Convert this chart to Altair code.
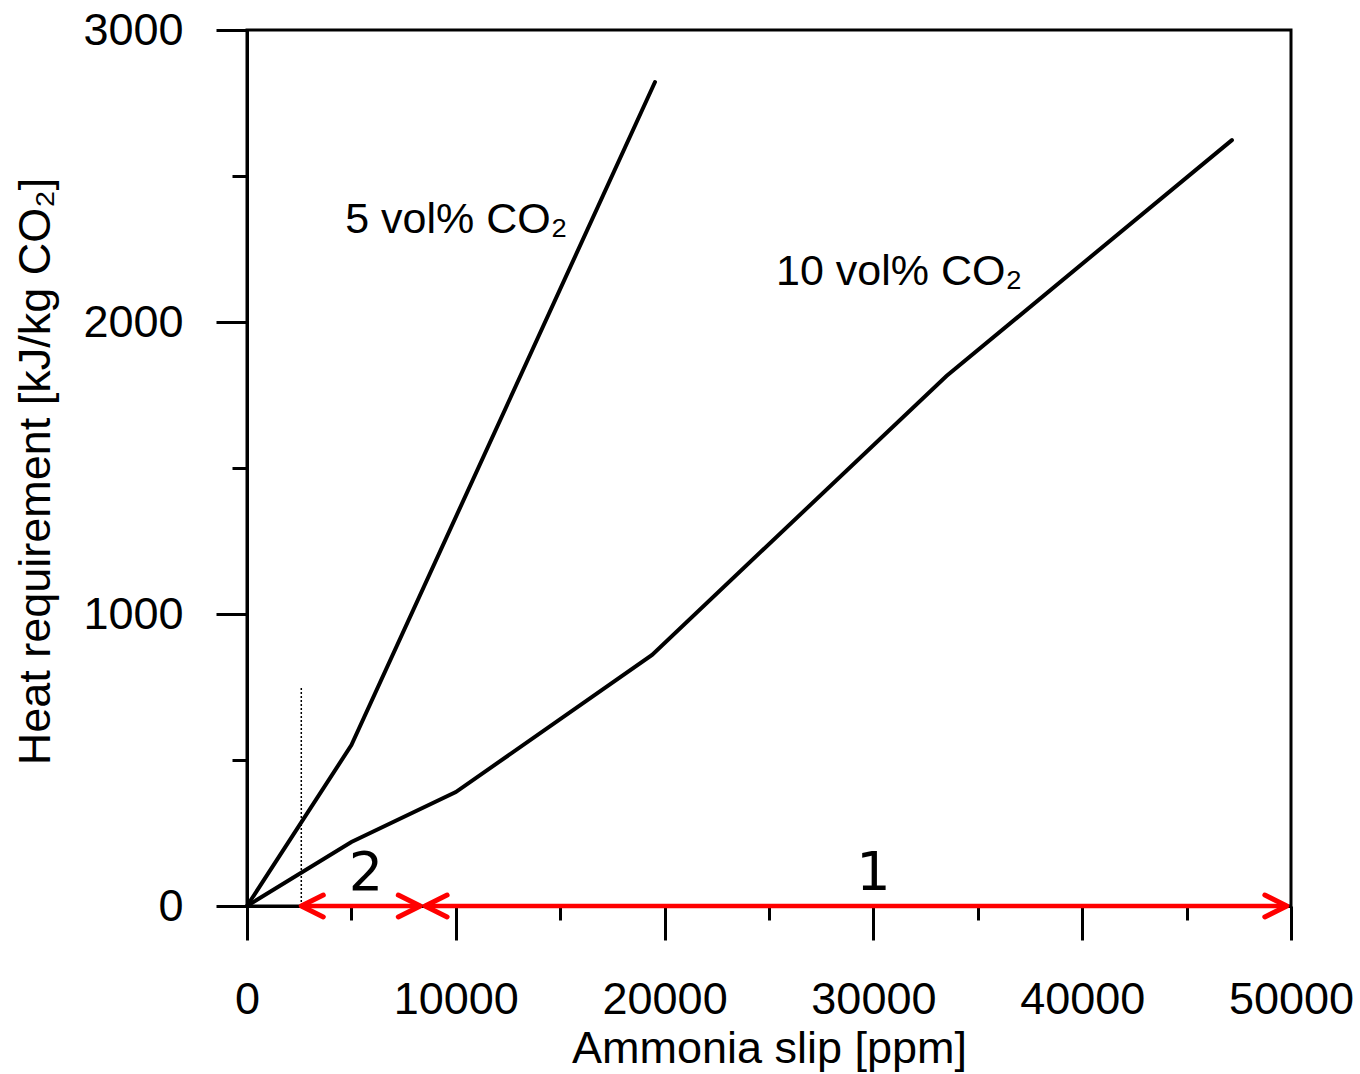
import altair as alt
import pandas as pd

# Data
x5 = [0, 5000, 19540]
y5 = [0, 551, 2822]
x10 = [0, 5000, 10000, 19400, 33500, 47170]
y10 = [0, 219, 390, 860, 1815, 2623]

x_major = [0, 10000, 20000, 30000, 40000, 50000]
x_minor = [5000, 15000, 25000, 35000, 45000]
y_major = [0, 1000, 2000, 3000]
y_minor = [500, 1500, 2500]

dotted_x = 2600
dotted_top = 750

arrow_segments = [
    {"seg": "2", "x": 2600, "x2": 8300},
    {"seg": "1", "x": 8530, "x2": 49800},
]
region_labels = ["2", "1"]
region_label_x = [5700, 30000]
region_label_y = [55, 55]

series_labels = ["5 vol% CO₂", "10 vol% CO₂"]
series_label_x = [4700, 25335]
series_label_y = [2305, 2127]

FONT = "Liberation Sans"

df_lines = pd.DataFrame(
    [{"s": "5", "x": a, "y": b} for a, b in zip(x5, y5)]
    + [{"s": "10", "x": a, "y": b} for a, b in zip(x10, y10)]
)

xs = alt.Scale(domain=[0, 50000], nice=False, zero=False)
ys = alt.Scale(domain=[0, 3000], nice=False, zero=False)

x_axis = alt.Axis(
    orient="bottom",
    values=x_major, title="Ammonia slip [ppm]", tickSize=34, tickWidth=3,
    domainWidth=3, domainColor="black", tickColor="black", labelColor="black",
    labelFont=FONT, labelFontSize=45, labelPadding=37, labelFlush=False,
    titleFont=FONT, titleFontSize=45, titleFontWeight="normal", titleColor="black",
    titleY=156, titleBaseline="alphabetic", format="d", grid=False,
)
y_axis = alt.Axis(
    orient="left",
    values=y_major, title="Heat requirement [kJ/kg CO₂]", tickSize=31, tickWidth=3,
    domainWidth=3, domainColor="black", tickColor="black", labelColor="black",
    labelFont=FONT, labelFontSize=45, labelPadding=33, labelFlush=False,
    titleFont=FONT, titleFontSize=45, titleFontWeight="normal", titleColor="black",
    titleX=-212, titleY=441, titleAngle=270, titleAlign="center", titleBaseline="middle",
    format="d", grid=False,
)

lines = alt.Chart(df_lines).mark_line(color="black", strokeWidth=4, strokeCap="round").encode(
    x=alt.X("x:Q", scale=xs, axis=x_axis),
    y=alt.Y("y:Q", scale=ys, axis=y_axis),
    detail="s:N",
)

df_minor = pd.DataFrame({"x": [x_minor[0]], "y": [y_minor[0]]})
minor = alt.Chart(df_minor).mark_point(opacity=0).encode(
    x=alt.X("x:Q", scale=xs, axis=alt.Axis(orient="bottom", values=x_minor, labels=False, title=None,
                                          domain=False, tickSize=14, tickWidth=3, tickColor="black",
                                          grid=False)),
    y=alt.Y("y:Q", scale=ys, axis=alt.Axis(orient="left", values=y_minor, labels=False, title=None,
                                          domain=False, tickSize=15, tickWidth=3, tickColor="black",
                                          grid=False)),
)

df_dot = pd.DataFrame({"x": [dotted_x], "y": [0], "y2": [dotted_top]})
dotted = alt.Chart(df_dot).mark_rule(color="black", strokeWidth=1.5, strokeDash=[2, 2]).encode(
    x=alt.X("x:Q", scale=xs, axis=None), y=alt.Y("y:Q", scale=ys, axis=None), y2="y2:Q"
)

df_arr = pd.DataFrame(arrow_segments)
df_arr["y"] = 0
arrows = alt.Chart(df_arr).mark_rule(color="#ff0000", strokeWidth=4.5).encode(
    x=alt.X("x:Q", scale=xs, axis=None), x2="x2:Q", y=alt.Y("y:Q", scale=ys, axis=None)
)
left_heads = alt.Chart(df_arr).mark_point(
    shape="M 1 -0.5 L 0 0 L 1 0.5", filled=False, color="#ff0000", strokeWidth=5,
    size=1936, strokeCap="round", strokeJoin="round", opacity=1,
).encode(x=alt.X("x:Q", scale=xs, axis=None), y=alt.Y("y:Q", scale=ys, axis=None))
right_heads = alt.Chart(df_arr).mark_point(
    shape="M -1 -0.5 L 0 0 L -1 0.5", filled=False, color="#ff0000", strokeWidth=5,
    size=1936, strokeCap="round", strokeJoin="round", opacity=1,
).encode(x=alt.X("x2:Q", scale=xs, axis=None), y=alt.Y("y:Q", scale=ys, axis=None))

df_reg = pd.DataFrame({"t": region_labels, "x": region_label_x, "y": region_label_y})
reg_text = alt.Chart(df_reg).mark_text(
    font="DejaVu Sans", fontSize=54, color="black", align="center", baseline="alphabetic"
).encode(x=alt.X("x:Q", scale=xs, axis=None), y=alt.Y("y:Q", scale=ys, axis=None), text="t:N")

df_ser = pd.DataFrame({"t": series_labels, "x": series_label_x, "y": series_label_y})
ser_text = alt.Chart(df_ser).mark_text(
    font=FONT, fontSize=43, color="black", align="left", baseline="alphabetic"
).encode(x=alt.X("x:Q", scale=xs, axis=None), y=alt.Y("y:Q", scale=ys, axis=None), text="t:N")

chart = alt.layer(lines, minor, dotted, arrows, left_heads, right_heads, reg_text, ser_text).resolve_axis(
    x="independent", y="independent"
).properties(
    width=1044, height=876,
    autosize=alt.AutoSizeParams(type="none"),
    padding={"left": 247, "top": 30, "right": 69, "bottom": 168},
    background="white",
).configure_view(stroke="black", strokeWidth=3)

chart.save("out.html", embed_options={"renderer": "svg", "actions": False})
